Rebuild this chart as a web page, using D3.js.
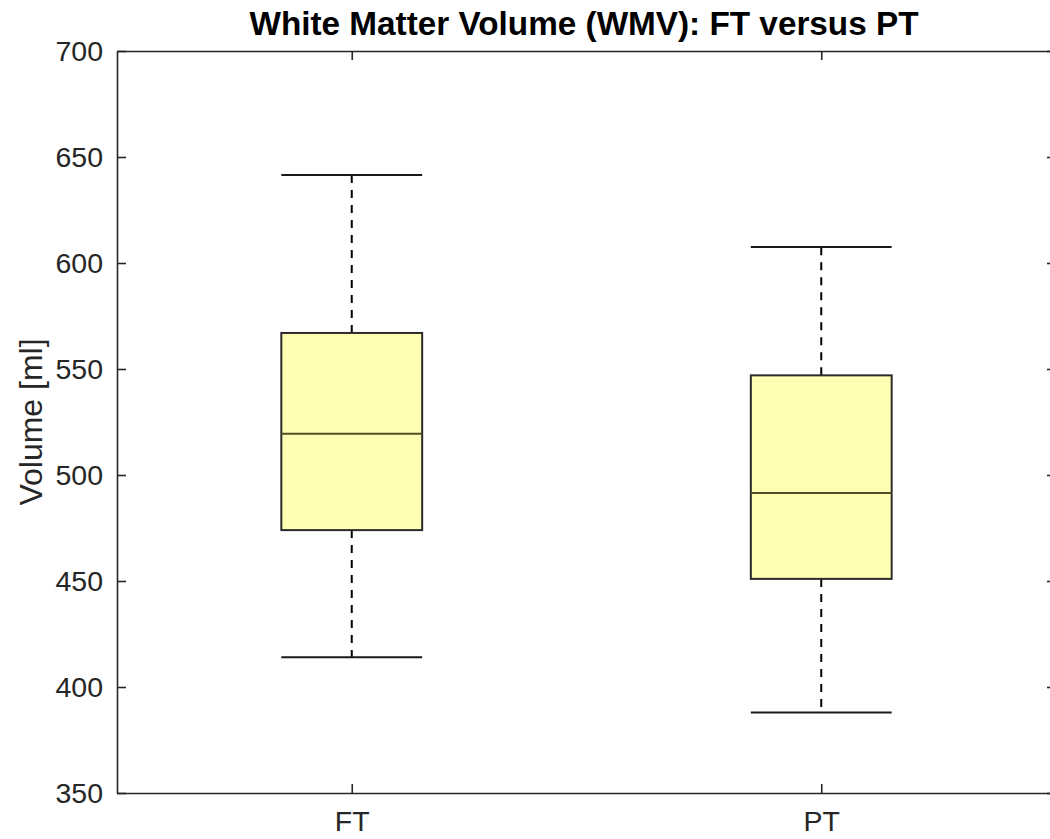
<!DOCTYPE html>
<html>
<head>
    <meta charset="utf-8">
    <title>White Matter Volume</title>
    <script src="https://d3js.org/d3.v7.min.js"></script>
    <style>
      body { margin: 0; background: #fff; }
      svg { display: block; }
    </style>
</head>
<body>
<div id="chart"></div>
<script type="text/javascript">
    // data
    let groups = ["FT", "PT"];
    let whiskerLow = [414, 388];
    let q1 = [474, 451];
    let median = [519.5, 491.5];
    let q3 = [567, 547];
    let whiskerHigh = [641.5, 607.5];
    let yTicks = [350, 400, 450, 500, 550, 600, 650, 700];

    let margin = {top: 51, right: -6, bottom: 46, left: 117};
    let W = 1050, H = 839;
    let w = W - margin.left - margin.right;
    let h = H - margin.top - margin.bottom;

    let svg = d3.select("#chart")
            .append("svg")
                .attr("width", W)
                .attr("height", H)
                .style("overflow", "hidden");

    let g = svg.append("g")
            .attr("transform", "translate(" + margin.left + "," + margin.top + ")");

    let x = d3.scaleLinear().domain([0.5, 2.5]).range([0, w]);
    let y = d3.scaleLinear().domain([350, 700]).range([h, 0]);

    let boxW = x(1.3) - x(1);
    let capW = x(1.15) - x(1);
    let axisColor = "#262626";
    let font = "'Liberation Sans', Arial, sans-serif";

    // axes: ticks pointing inward on all four sides
    let axLeft = d3.axisLeft(y).tickValues(yTicks).tickSizeInner(-9).tickSizeOuter(0)
                   .tickPadding(14).tickFormat(d3.format("d"));
    let axRight = d3.axisRight(y).tickValues(yTicks).tickSizeInner(-9).tickSizeOuter(0).tickFormat("");
    let axBottom = d3.axisBottom(x).tickValues([1, 2]).tickSizeInner(-9).tickSizeOuter(0)
                   .tickPadding(18).tickFormat((d) => groups[d - 1]);
    let axTop = d3.axisTop(x).tickValues([1, 2]).tickSizeInner(-9).tickSizeOuter(0).tickFormat("");

    function styleAxis(sel) {
      sel.select(".domain").attr("stroke", axisColor).attr("stroke-width", 1.6);
      sel.selectAll(".tick line").attr("stroke", axisColor).attr("stroke-width", 1.6);
      sel.selectAll(".tick text")
          .attr("fill", axisColor)
          .attr("font-family", font)
          .attr("font-size", "28.5px");
    }

    g.append("g").call(axLeft).call(styleAxis);
    g.append("g").attr("transform", "translate(" + w + ",0)").call(axRight).call(styleAxis);
    g.append("g").attr("transform", "translate(0," + h + ")").call(axBottom).call(styleAxis);
    g.append("g").call(axTop).call(styleAxis);

    let boxes = g.selectAll(".box")
        .data(groups)
        .enter()
        .append("g")
            .attr("class", "box");

    // whiskers (dashed)
    boxes.append("line")
        .attr("x1", (d, i) => x(i + 1))
        .attr("x2", (d, i) => x(i + 1))
        .attr("y1", (d, i) => y(q3[i]))
        .attr("y2", (d, i) => y(whiskerHigh[i]))
        .attr("stroke", "#000")
        .attr("stroke-width", 2)
        .attr("stroke-dasharray", "8,7");
    boxes.append("line")
        .attr("x1", (d, i) => x(i + 1))
        .attr("x2", (d, i) => x(i + 1))
        .attr("y1", (d, i) => y(q1[i]))
        .attr("y2", (d, i) => y(whiskerLow[i]))
        .attr("stroke", "#000")
        .attr("stroke-width", 2)
        .attr("stroke-dasharray", "8,7");

    // whisker caps
    boxes.append("line")
        .attr("x1", (d, i) => x(i + 1) - capW)
        .attr("x2", (d, i) => x(i + 1) + capW)
        .attr("y1", (d, i) => y(whiskerHigh[i]))
        .attr("y2", (d, i) => y(whiskerHigh[i]))
        .attr("stroke", "#1a1a1a")
        .attr("stroke-width", 2);
    boxes.append("line")
        .attr("x1", (d, i) => x(i + 1) - capW)
        .attr("x2", (d, i) => x(i + 1) + capW)
        .attr("y1", (d, i) => y(whiskerLow[i]))
        .attr("y2", (d, i) => y(whiskerLow[i]))
        .attr("stroke", "#1a1a1a")
        .attr("stroke-width", 2);

    // the box
    boxes.append("rect")
        .attr("x", (d, i) => x(i + 1) - boxW / 2)
        .attr("width", boxW)
        .attr("y", (d, i) => y(q3[i]))
        .attr("height", (d, i) => y(q1[i]) - y(q3[i]))
        .attr("fill", "#ffffb3")
        .attr("stroke", "#2b2b2b")
        .attr("stroke-width", 2);

    // median
    boxes.append("line")
        .attr("x1", (d, i) => x(i + 1) - boxW / 2)
        .attr("x2", (d, i) => x(i + 1) + boxW / 2)
        .attr("y1", (d, i) => y(median[i]))
        .attr("y2", (d, i) => y(median[i]))
        .attr("stroke", "#4f4f2a")
        .attr("stroke-width", 2);

    // title
    svg.append("text")
        .attr("x", 584)
        .attr("y", 35)
        .attr("text-anchor", "middle")
        .attr("font-family", font)
        .attr("font-weight", "bold")
        .attr("font-size", "33.3px")
        .attr("fill", "#000")
        .text("White Matter Volume (WMV): FT versus PT");

    // y label
    svg.append("text")
        .attr("transform", "translate(42," + (margin.top + y(525)) + ") rotate(-90)")
        .attr("text-anchor", "middle")
        .attr("font-family", font)
        .attr("font-size", "32px")
        .attr("fill", axisColor)
        .text("Volume [ml]");
</script>
</body>
</html>
